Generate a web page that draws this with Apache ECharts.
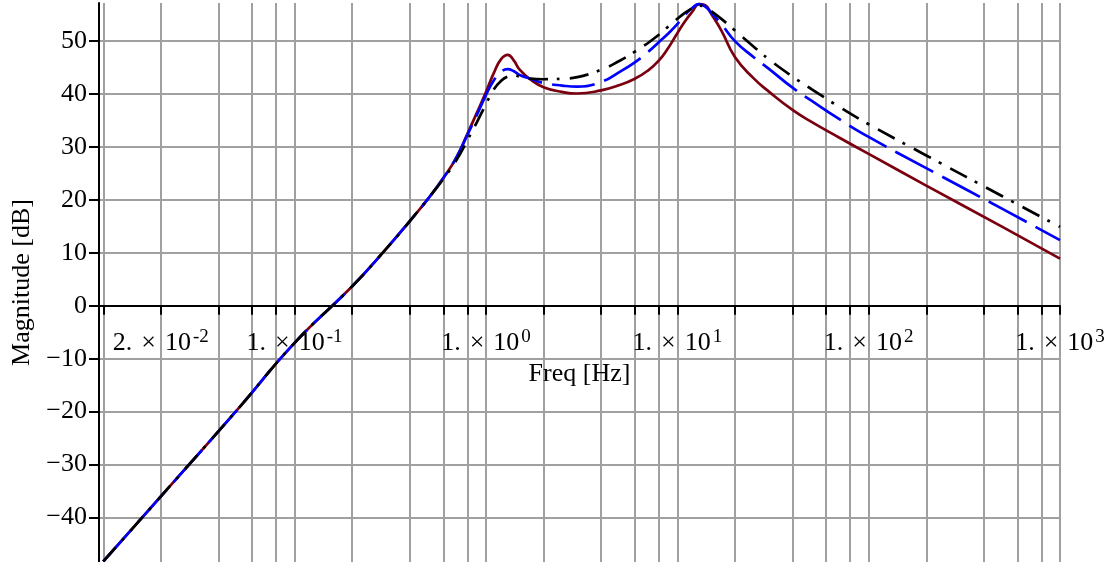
<!DOCTYPE html>
<html>
<head>
<meta charset="utf-8">
<style>
  html, body { margin: 0; padding: 0; background: #fff; }
  #chart { width: 1112px; height: 562px; }
</style>
<script src="https://cdn.jsdelivr.net/npm/echarts@6/dist/echarts.min.js"></script>
</head>
<body>
<div id="chart"></div>
<script>
// frequencies [Hz]
const freq = [0.01, 0.02, 0.05, 0.1, 0.2, 0.3, 0.4, 0.5, 0.6, 0.7, 0.8, 0.9, 1.0, 1.1, 1.2, 1.3, 1.4, 1.5, 1.7,
  2, 2.5, 3, 4, 5, 6, 7, 8, 9, 10, 11, 12, 13, 14, 15, 17, 20, 25, 30, 40, 50, 70, 100, 200, 500, 1000];

// magnitude [dB]
const magRed = [-48.3, -36.0, -19.7, -7.0, 3.7, 10.7, 16.0, 20.3, 24.2, 28.0, 32.5, 36.6, 40.4, 44.0, 46.6, 47.4, 46.3, 44.6, 42.8,
  41.3, 40.4, 40.1, 40.7, 41.7, 42.9, 44.4, 46.3, 48.8, 51.5, 53.8, 55.6, 57.0, 56.8, 55.2, 52.0, 47.0, 43.0, 40.5, 37.0, 34.8, 31.8, 28.7, 22.7, 14.9, 8.9];
const magBlue = [-48.3, -36.0, -19.7, -7.0, 3.7, 10.7, 16.0, 20.3, 24.2, 28.0, 32.3, 36.2, 39.8, 42.6, 44.2, 44.7, 44.3, 43.6, 42.9,
  42.1, 41.6, 41.4, 42.3, 44.2, 46.0, 47.9, 49.8, 51.5, 53.2, 55.0, 56.3, 57.0, 56.5, 55.4, 53.2, 50.0, 47.0, 44.8, 41.2, 38.8, 35.3, 31.9, 26.0, 18.3, 12.4];
const magBlack = [-48.3, -36.0, -19.7, -7.0, 3.7, 10.7, 16.0, 20.3, 24.0, 27.5, 31.3, 34.8, 38.1, 40.9, 42.5, 43.3, 43.5, 43.3, 42.9,
  42.8, 42.9, 43.2, 44.6, 46.3, 48.0, 49.6, 51.2, 52.8, 54.2, 55.4, 56.2, 56.7, 56.4, 55.7, 54.2, 52.0, 49.0, 46.6, 43.3, 41.0, 37.6, 34.3, 28.4, 20.7, 14.9];

// axis ticks
const xTicks = [0.01, 0.02, 0.04, 0.06, 0.08, 0.1, 0.2, 0.4, 0.6, 0.8, 1, 2, 4, 6, 8,
  10, 20, 40, 60, 80, 100, 200, 400, 600, 800, 1000];
const xLabelVals = [0.02, 0.1, 1, 10, 100, 1000];
const xLabelMant = ['2.', '1.', '1.', '1.', '1.', '1.'];
const xLabelExp = ['-2', '-1', '0', '1', '2', '3'];
const yTicks = [-40, -30, -20, -10, 0, 10, 20, 30, 40, 50];

const font = 'Liberation Serif';
const yMin = -48.4, yMax = 57.2;

function pairs(ys) {
  return freq.map((f, i) => [f, ys[i]]);
}

const chart = echarts.init(document.getElementById('chart'));
const plotH = 562 - 3;
// shift the x axis up from the grid bottom to y = 0
const zeroOffset = -plotH * (0 - yMin) / (yMax - yMin);

chart.setOption({
  animation: false,
  grid: { left: 99, right: 52, top: 3, bottom: 0, outerBoundsMode: 'none', containLabel: false },
  xAxis: {
    type: 'log',
    logBase: 10,
    min: 0.0095,
    max: 1000,
    position: 'bottom',
    offset: zeroOffset,
    name: 'Freq [Hz]',
    nameLocation: 'middle',
    nameGap: 52,
    nameTextStyle: { fontFamily: font, fontSize: 26, color: '#000' },
    axisLine: { onZero: false, lineStyle: { color: '#000', width: 2 } },
    axisTick: { customValues: xTicks, length: 9, lineStyle: { color: '#000', width: 2 } },
    axisLabel: {
      customValues: xLabelVals,
      margin: 22,
      formatter: v => {
        const i = xLabelVals.findIndex(x => Math.abs(Math.log10(x) - Math.log10(v)) < 1e-6);
        if (i < 0) return '';
        return '{m|' + xLabelMant[i] + '}{x|\u00d7}{m|10}{e|' + xLabelExp[i] + '}';
      },
      rich: {
        m: { fontFamily: font, fontSize: 26, color: '#000' },
        x: { fontFamily: font, fontSize: 26, color: '#000', padding: [0, 9, 0, 9] },
        e: { fontFamily: font, fontSize: 19, color: '#000', verticalAlign: 'top', padding: [0, 0, 12, 2] }
      }
    },
    splitLine: { show: true, lineStyle: { color: '#a0a0a0', width: 2 } }
  },
  yAxis: {
    type: 'value',
    min: yMin,
    max: yMax,
    name: 'Magnitude [dB]',
    nameLocation: 'middle',
    nameGap: 63,
    nameTextStyle: { fontFamily: font, fontSize: 26, color: '#000' },
    axisLine: { lineStyle: { color: '#000', width: 2 } },
    axisTick: { customValues: yTicks, length: 10, lineStyle: { color: '#000', width: 2 } },
    axisLabel: {
      customValues: yTicks,
      margin: 12,
      fontFamily: font,
      fontSize: 26,
      color: '#000',
      formatter: v => (v < 0 ? '\u2212' + (-v) : String(v))
    },
    splitLine: { show: true, lineStyle: { color: '#a0a0a0', width: 2 } }
  },
  series: [
    {
      type: 'line', data: pairs(magRed), showSymbol: false, smooth: true,
      lineStyle: { color: '#7a0010', width: 2.7 }
    },
    {
      type: 'line', data: pairs(magBlue), showSymbol: false, smooth: true,
      lineStyle: { color: '#0000ff', width: 2.7, type: [43, 10] }
    },
    {
      type: 'line', data: pairs(magBlack), showSymbol: false, smooth: true,
      lineStyle: { color: '#000', width: 2.7, type: [19, 9, 3, 10] }
    }
  ]
});
</script>
</body>
</html>
